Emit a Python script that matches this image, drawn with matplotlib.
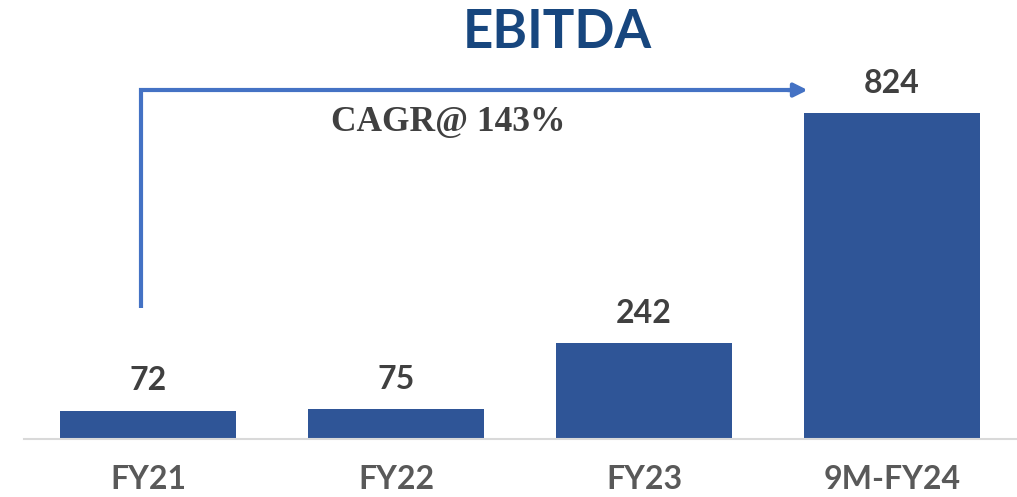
import matplotlib
matplotlib.use('Agg')
import matplotlib.pyplot as plt

periods = ['FY21', 'FY22', 'FY23', '9M-FY24']
ebitda = [72, 75, 242, 824]
cagr_label = 'CAGR@ 143%'

bar_color = '#2F5597'
text_gray = '#404040'

fig = plt.figure(figsize=(10.17, 4.97), dpi=100)
ax = fig.add_axes([0.0236, 0.1167, 0.9754, 0.7626])

x = range(len(periods))
ax.bar(x, ebitda, width=0.71, color=bar_color, zorder=2)
ax.set_xlim(-0.5, 3.5)
ax.set_ylim(0, 958)

for i, v in zip(x, ebitda):
    ax.annotate(str(v), (i, v), xytext=(0, 11), textcoords='offset points',
                ha='center', va='bottom', fontsize=23, fontweight='bold',
                family='Lato', color=text_gray)

for s in ['top', 'right', 'left']:
    ax.spines[s].set_visible(False)
ax.spines['bottom'].set_color('#D9D9D9')
ax.spines['bottom'].set_linewidth(1.5)
ax.set_yticks([])
ax.set_xticks(list(x))
ax.set_xticklabels(periods, fontsize=23, fontweight='bold', family='Lato', color='#595959')
ax.tick_params(axis='x', length=0, pad=19)

# CAGR arrow
ax.plot([-0.03, -0.03, 2.60], [331, 882, 882], color='#4472C4', lw=3,
        solid_capstyle='butt', solid_joinstyle='miter', zorder=3)
ax.annotate('', xy=(2.66, 882), xytext=(2.58, 882),
            arrowprops=dict(arrowstyle='-|>,head_length=0.8,head_width=0.4',
                            color='#4472C4', lw=3, shrinkA=0, shrinkB=0))
ax.text(1.21, 800, cagr_label, ha='center', va='center', fontsize=25.5,
        fontweight='bold', family='Liberation Serif', color=text_gray)

fig.text(0.548, 0.935, 'EBITDA', ha='center', va='center', fontsize=38,
         fontweight='bold', family='Lato', color='#17467E')

fig.savefig('out.png', dpi=100)
